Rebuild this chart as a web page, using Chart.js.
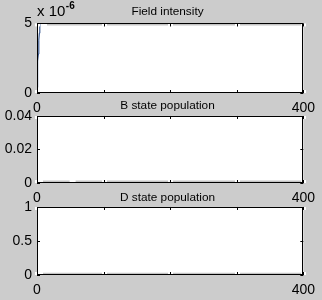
<!DOCTYPE html>
<html>
<head>
<meta charset="utf-8">
<script src="https://cdn.jsdelivr.net/npm/chart.js@4.4.1/dist/chart.umd.min.js"></script>
<style>
  html, body { margin: 0; padding: 0; background: #cccccc; width: 322px; height: 300px; overflow: hidden; }
  .panel { position: absolute; left: 0; width: 322px; }
  canvas { display: block; }
</style>
</head>
<body>
<div class="panel" style="top:0px;height:115px"><canvas id="c1" width="322" height="115"></canvas></div>
<div class="panel" style="top:93px;height:112px"><canvas id="c2" width="322" height="112"></canvas></div>
<div class="panel" style="top:185px;height:115px"><canvas id="c3" width="322" height="115"></canvas></div>
<script>
// ---- data ----
const titles = ["Field intensity", "B state population", "D state population"];
const xTickLabels = [0, 400];            // labelled x ticks
const xTicks = [0, 100, 200, 300, 400];  // all x ticks

// Field intensity: fast rise at the start (blue)
const fieldTime  = [0, 0.5, 1, 1.5, 2, 2.5, 3, 3.5, 4, 4.5];
const fieldValue = [0.4e-6, 0.9e-6, 1.8e-6, 2.3e-6, 2.8e-6, 3.4e-6, 3.8e-6, 4.3e-6, 4.8e-6, 5.0e-6];
// faint grey traces
const fieldTraceTime  = [15, 400];
const fieldTraceValue = [4.93e-6, 4.93e-6];

const bTime  = [9, 49, null, 58, 400];
const bValue = [0.0009, 0.0009, null, 0.0009, 0.0009];

const dTime  = [9, 400];
const dValue = [0.02, 0.02];

const yTicksField = [0, 5e-6];
const yTicksB = [0, 0.02, 0.04];
const yTicksD = [0, 0.5, 1];

// ---- helpers ----
Chart.defaults.font.family = "'Liberation Sans', Arial, Helvetica, sans-serif";
Chart.defaults.color = "#000";
Chart.defaults.devicePixelRatio = 1;

function pts(xs, ys) {
  return xs.map((x, i) => (x === null || ys[i] === null) ? { x: NaN, y: null } : { x: x, y: ys[i] });
}

const frame = {
  id: 'frame',
  afterLayout(chart) {
    if (chart.titleBlock) { chart.titleBlock.left = 27; chart.titleBlock.right = 308; }
  },
  beforeDatasetsDraw(chart) {
    const a = chart.chartArea, ctx = chart.ctx;
    ctx.save();
    ctx.fillStyle = '#ffffff';
    ctx.fillRect(a.left, a.top, a.right - a.left, a.bottom - a.top);
    ctx.restore();
  },
  afterDatasetsDraw(chart) {
    const a = chart.chartArea, ctx = chart.ctx;
    const xs = chart.scales.x, ys = chart.scales.y;
    ctx.save();
    const L = 3;
    xTicks.forEach(v => {
      const px = Math.round(xs.getPixelForValue(v));
      ctx.fillStyle = '#ffffff';
      ctx.fillRect(px - 2, a.bottom - L, 5, L);
      ctx.fillRect(px - 2, a.top, 5, L);
      ctx.fillStyle = '#000';
      ctx.fillRect(px, a.bottom - L, 1, L);
      ctx.fillRect(px, a.top, 1, L);
    });
    (chart.options.plugins.frame.yTicks || []).forEach(v => {
      const py = Math.round(ys.getPixelForValue(v));
      ctx.fillStyle = '#000';
      ctx.fillRect(a.left, py, L, 1);
      ctx.fillRect(a.right - L, py, L, 1);
    });
    ctx.strokeStyle = '#000';
    ctx.lineWidth = 1;
    ctx.strokeRect(Math.round(a.left) + 0.5, Math.round(a.top) + 0.5,
                   Math.round(a.right - a.left) - 1, Math.round(a.bottom - a.top) - 1);
    const ex = chart.options.plugins.frame.exponent;
    if (ex) {
      ctx.fillStyle = '#000';
      ctx.textBaseline = 'alphabetic';
      ctx.font = "15px 'Liberation Sans', Arial, sans-serif";
      ctx.fillText('x 10', 37, 16);
      const w = ctx.measureText('x 10').width;
      ctx.font = "bold 10px 'Liberation Sans', Arial, sans-serif";
      ctx.fillText(ex, 37 + w + 0.5, 9);
    }
    ctx.restore();
  }
};

function makeChart(id, cfg) {
  return new Chart(document.getElementById(id), {
    type: 'line',
    data: { datasets: cfg.datasets },
    options: {
      responsive: false,
      animation: false,
      events: [],
      layout: { padding: { left: 0, right: 14, top: 0, bottom: 0 } },
      plugins: {
        legend: { display: false },
        tooltip: { enabled: false },
        title: {
          display: true,
          text: cfg.title,
          font: { size: 11.8, weight: 'normal' },
          color: '#000',
          padding: cfg.titlePad
        },
        frame: { yTicks: cfg.yTicks, exponent: cfg.exponent }
      },
      scales: {
        x: {
          type: 'linear', min: 0, max: 400,
          afterBuildTicks: s => { s.ticks = xTicks.map(v => ({ value: v })); },
          afterFit: s => { s.height = cfg.xh; },
          grid: { display: false, drawTicks: false },
          border: { display: false },
          ticks: {
            autoSkip: false, maxRotation: 0, padding: 7,
            font: { size: 14 },
            callback: v => xTickLabels.includes(v) ? String(v) : ''
          }
        },
        y: {
          type: 'linear', min: cfg.yTicks[0], max: cfg.yTicks[cfg.yTicks.length - 1],
          afterBuildTicks: s => { s.ticks = cfg.yTicks.map(v => ({ value: v })); },
          afterFit: s => { s.width = 37; },
          grid: { display: false, drawTicks: false },
          border: { display: false },
          ticks: {
            padding: 5,
            font: { size: 14 },
            callback: cfg.yFmt
          }
        }
      }
    },
    plugins: [frame]
  });
}

makeChart('c1', {
  title: titles[0], titlePad: { top: 5, bottom: 4.3 }, xh: 22,
  yTicks: yTicksField, exponent: '-6',
  yFmt: v => String(Math.round(v * 1e6)),
  datasets: [
    { data: pts(fieldTraceTime, fieldTraceValue), borderColor: '#c4c4c4', borderWidth: 2, pointRadius: 0, spanGaps: false },
    { data: pts(fieldTime, fieldValue), borderColor: '#12377a', borderWidth: 1, pointRadius: 0 }
  ]
});

makeChart('c2', {
  title: titles[1], titlePad: { top: 6.1, bottom: 2.7 }, xh: 22,
  yTicks: yTicksB,
  yFmt: v => v === 0 ? '0' : String(v),
  datasets: [
    { data: pts(bTime, bValue), borderColor: '#c4c4c4', borderWidth: 2, pointRadius: 0, spanGaps: false }
  ]
});

makeChart('c3', {
  title: titles[2], titlePad: { top: 6.1, bottom: 1.7 }, xh: 25,
  yTicks: yTicksD,
  yFmt: v => String(v),
  datasets: [
    { data: pts(dTime, dValue), borderColor: '#c4c4c4', borderWidth: 2, pointRadius: 0, spanGaps: false }
  ]
});
</script>
</body>
</html>
